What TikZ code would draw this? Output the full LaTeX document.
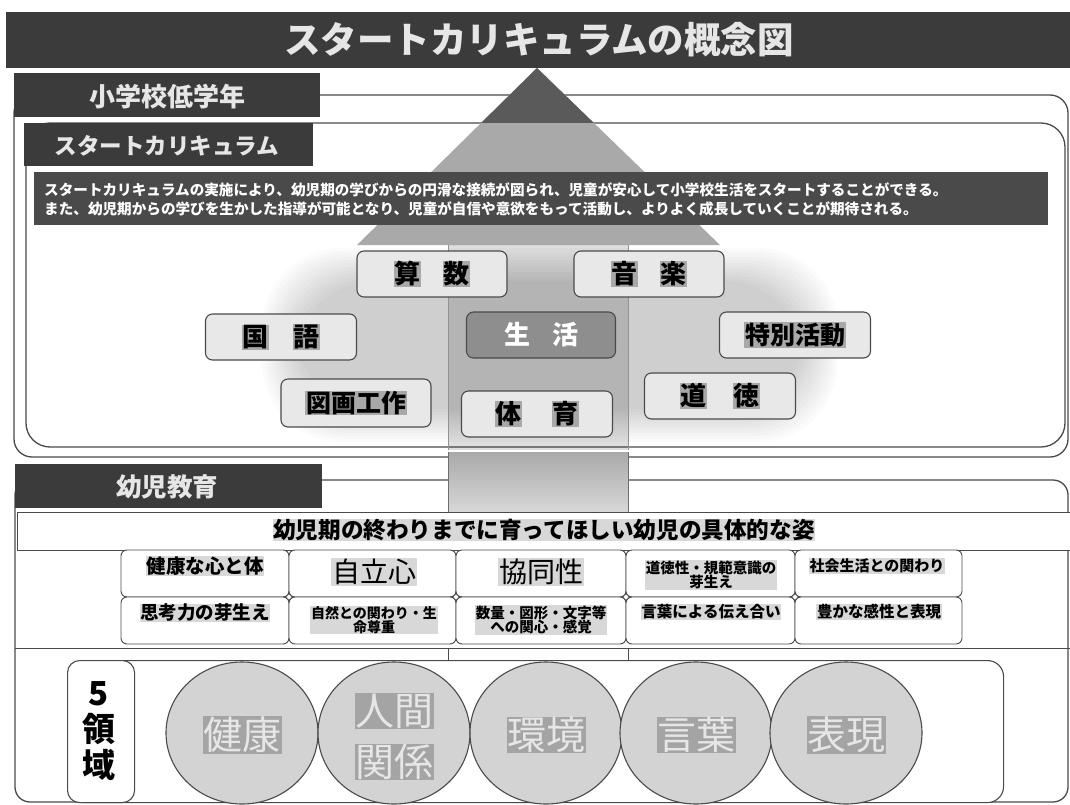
\documentclass[tikz,border=0pt]{standalone}
\usepackage{fontspec}
\setmainfont{Noto Sans CJK JP}
\usetikzlibrary{shapes.geometric}
\definecolor{barc}{HTML}{3B3B3B}
\definecolor{descc}{HTML}{4A4A4A}
\definecolor{linec}{HTML}{4A4A4A}
\definecolor{subjfill}{HTML}{E8E8E8}
\definecolor{seikatsu}{HTML}{8E8E8E}
\definecolor{hlg}{HTML}{D8D8D8}
\definecolor{hls}{HTML}{A8A8A8}
\definecolor{hld}{HTML}{A4A4A4}
\definecolor{ellc}{HTML}{D3D3D3}
\definecolor{trid}{HTML}{5A5A5A}
\definecolor{tril}{HTML}{A9A9A9}
\definecolor{lighttxt}{HTML}{E6E6E6}
\newcommand{\fsz}[2]{\fontsize{#1}{#2}\selectfont}
\newcommand{\hlc}[2]{{\setlength{\fboxsep}{0.6pt}\colorbox{#1}{#2}}}
\tikzset{
  bar/.style={fill=barc, draw=none},
  hdrtext/.style={text=lighttxt, font=\fsz{26}{28}\bfseries, inner sep=0},
  bigbox/.style={draw=linec, line width=1.3pt, fill=white},
  subj/.style={draw=linec, line width=1.1pt, rounded corners=7pt, fill=subjfill,
    minimum width=150pt, minimum height=46pt, inner sep=0, font=\fsz{26}{28}\bfseries},
  cell/.style={draw=linec, line width=0.9pt, rounded corners=6pt, fill=white,
    minimum width=167pt, minimum height=47pt, inner sep=0},
  celltxt/.style={inner sep=0.6pt, fill=hlg, align=center},
  joint/.style={circle, draw=linec, fill=white, line width=0.6pt, minimum size=5pt, inner sep=0},
  dom/.style={ellipse, draw=linec, line width=1.1pt, fill=ellc, minimum width=152pt, minimum height=142pt, inner sep=0},
  domtxt/.style={fill=hld, text=lighttxt, inner sep=0.5pt, font=\fsz{39}{42}, align=center}
}
\begin{document}
\begin{tikzpicture}[x=1pt,y=-1pt]
\useasboundingbox (0,0) rectangle (1070,805);
\fill[white] (0,0) rectangle (1070,805);

% title
\node[bar, minimum width=1064pt, minimum height=56pt, inner sep=0] (titlebar) at (538,40) {};
\node[text=lighttxt, font=\fsz{36.5}{38}\bfseries, inner sep=0] (title) at (539,40) {スタートカリキュラムの概念図};

% upper boxes
\draw[bigbox, rounded corners=18pt] (14,95) rectangle (1068,457);
\node[bar, minimum width=306pt, minimum height=44pt, inner sep=0, anchor=north west] (hdr1) at (14,73) {};
\node[hdrtext] (hdr1t) at (167,97) {小学校低学年};
\draw[bigbox, rounded corners=24pt] (26,123) rectangle (1065,447);
\node[bar, minimum width=289pt, minimum height=43pt, inner sep=0, anchor=north west] (hdr2) at (24,123) {};
\node[hdrtext, font=\fsz{22.5}{24}\bfseries] (hdr2t) at (167,146) {スタートカリキュラム};

% cloud
\foreach \i in {0,...,11}
  \fill[black, opacity=0.014, rounded corners=80pt]
    ({262+3*\i},{248+3*\i}) rectangle ({838-3*\i},{442-3*\i});

% arrow head
\fill[tril] (537,68) -- (720,245) -- (357,245) -- cycle;
\begin{scope}
  \clip (0,60) rectangle (1070,123);
  \fill[trid] (537,68) -- (720,245) -- (357,245) -- cycle;
\end{scope}
% shaft in upper box
\fill[black, opacity=0.13] (448,245) rectangle (628,450);
\draw[linec!60, line width=0.6pt] (448,245) -- (448,450) (628,245) -- (628,450);

% description
\node[fill=descc, minimum width=1014pt, minimum height=53pt, inner sep=0, anchor=north west] (desc) at (34,172) {};
\node[anchor=west, text=white, font=\fsz{14.6}{16}\bfseries, inner sep=0] (desc1) at (44,190)
  {スタートカリキュラムの実施により、幼児期の学びからの円滑な接続が図られ、児童が安心して小学校生活をスタートすることができる。};
\node[anchor=west, text=white, font=\fsz{14.6}{16}\bfseries, inner sep=0] (desc2) at (44,209)
  {また、幼児期からの学びを生かした指導が可能となり、児童が自信や意欲をもって活動し、よりよく成長していくことが期待される。};

% subjects
\node[subj] (sansu) at (432,274) {\hlc{hls}{算}\hspace{22pt}\hlc{hls}{数}};
\node[subj] (ongaku) at (649,274) {\hlc{hls}{音}\hspace{22pt}\hlc{hls}{楽}};
\node[subj, minimum width=151pt] (kokugo) at (281,337) {\hlc{hls}{国}\hspace{24pt}\hlc{hls}{語}};
\node[subj, fill=seikatsu, text=white, minimum width=149pt] (seikatsu) at (541,335) {生\hspace{22pt}活};
\node[subj, font=\fsz{25}{27}\bfseries, minimum width=151pt] (tokubetsu) at (795,335) {\hlc{hls}{特別活動}};
\node[subj, font=\fsz{25}{27}\bfseries, minimum width=150pt, minimum height=48pt] (zuga) at (356,403) {\hlc{hls}{図画工作}};
\node[subj, minimum width=151pt] (taiiku) at (537,414) {\hlc{hls}{体}\hspace{30pt}\hlc{hls}{育}};
\node[subj, minimum width=151pt] (dotoku) at (720,396) {\hlc{hls}{道}\hspace{26pt}\hlc{hls}{徳}};

% lower outer box
\draw[bigbox, rounded corners=15pt] (15,480) rectangle (1068,802);
\node[bar, minimum width=307pt, minimum height=44pt, inner sep=0, anchor=north west] (hdr3) at (15,464) {};
\node[hdrtext, font=\fsz{25.5}{27}\bfseries] (hdr3t) at (167,487) {幼児教育};

% shaft between boxes
\shade[top color=tril, bottom color=hlg] (448,452) rectangle (628,512);
\draw[linec!80, line width=0.8pt] (448,452) -- (448,512) (628,452) -- (628,512);

% band
\node[draw=linec, line width=1pt, fill=white, minimum width=1060pt, minimum height=38pt, inner sep=0, anchor=north west] (band) at (17,512) {};
\node[fill=hlg, inner sep=0.6pt, font=\fsz{22.6}{24}\bfseries] (bandt) at (544,530) {幼児期の終わりまでに育ってほしい幼児の具体的な姿};

% grid cells
\node[cell, minimum width=168pt] (c11) at (205,573.5) {};
\node[cell] (c12) at (372.5,573.5) {};
\node[cell, minimum width=170pt] (c13) at (541,573.5) {};
\node[cell, minimum width=169pt] (c14) at (710.5,573.5) {};
\node[cell] (c15) at (878.5,573.5) {};
\node[cell, minimum width=168pt] (c21) at (205,620.5) {};
\node[cell] (c22) at (372.5,620.5) {};
\node[cell, minimum width=170pt] (c23) at (541,620.5) {};
\node[cell, minimum width=169pt] (c24) at (710.5,620.5) {};
\node[cell] (c25) at (878.5,620.5) {};
\foreach \xx/\nm in {289/j1,456/j2,626/j3,795/j4}
  \node[joint] (\nm) at (\xx,597) {};

\node[celltxt, font=\fsz{19.5}{21}\bfseries] (t11) at (205,566) {健康な心と体};
\node[celltxt, fill=none, font=\fsz{28}{30}] (t12) at (374,572) {\hlc{hlg}{自立心}};
\node[celltxt, fill=none, font=\fsz{28}{30}] (t13) at (541,572) {\hlc{hlg}{協同性}};
\node[celltxt, font=\fsz{14.5}{14.5}\bfseries] (t14) at (711,575) {道徳性・規範意識の\\芽生え};
\node[celltxt, font=\fsz{15}{16}\bfseries] (t15) at (877,566) {社会生活との関わり};
\node[celltxt, font=\fsz{18.5}{20}\bfseries] (t21) at (205,613) {思考力の芽生え};
\node[celltxt, font=\fsz{14}{14}\bfseries] (t22) at (374,620) {自然との関わり・生\\命尊重};
\node[celltxt, font=\fsz{14.5}{14.5}\bfseries] (t23) at (541,620) {数量・図形・文字等\\への関心・感覚};
\node[celltxt, font=\fsz{15.5}{16}\bfseries] (t24) at (711,612) {言葉による伝え合い};
\node[celltxt, font=\fsz{15.5}{16}\bfseries] (t25) at (879,612) {豊かな感性と表現};

% line below grid and shaft stub
\coordinate (gl) at (15,648);
\coordinate (gr) at (1070,648);
\draw[linec, line width=0.9pt] (gl) -- (gr);
\node[draw=linec, line width=0.9pt, fill=white, minimum width=180pt, minimum height=12pt, inner sep=0, anchor=north west] (stub) at (448,648) {};

% five domains
\node[draw=linec, line width=1.1pt, rounded corners=16pt, fill=white, minimum width=936pt, minimum height=142pt, inner sep=0, anchor=north west] (domframe) at (67,660) {};
\node[draw=linec, line width=1.1pt, rounded corners=12pt, fill=white, minimum width=67pt, minimum height=142pt, inner sep=0, anchor=north west] (domlabel) at (67,660) {};
\node[font=\fsz{33}{36}\bfseries, align=center, inner sep=0] (domlabelt) at (99,731) {5\\領\\域};

\node[dom] (d1) at (242,733) {};
\node[dom] (d2) at (394,733) {};
\node[dom] (d3) at (546,733) {};
\node[dom] (d4) at (696,733) {};
\node[dom] (d5) at (846,733) {};
\node[domtxt] (d1t) at (242,735) {健康};
\node[domtxt] (d2ta) at (394,711) {人間};
\node[domtxt] (d2tb) at (394,762) {関係};
\node[domtxt] (d3t) at (546,735) {環境};
\node[domtxt] (d4t) at (696,735) {言葉};
\node[domtxt] (d5t) at (846,735) {表現};
\end{tikzpicture}
\end{document}
